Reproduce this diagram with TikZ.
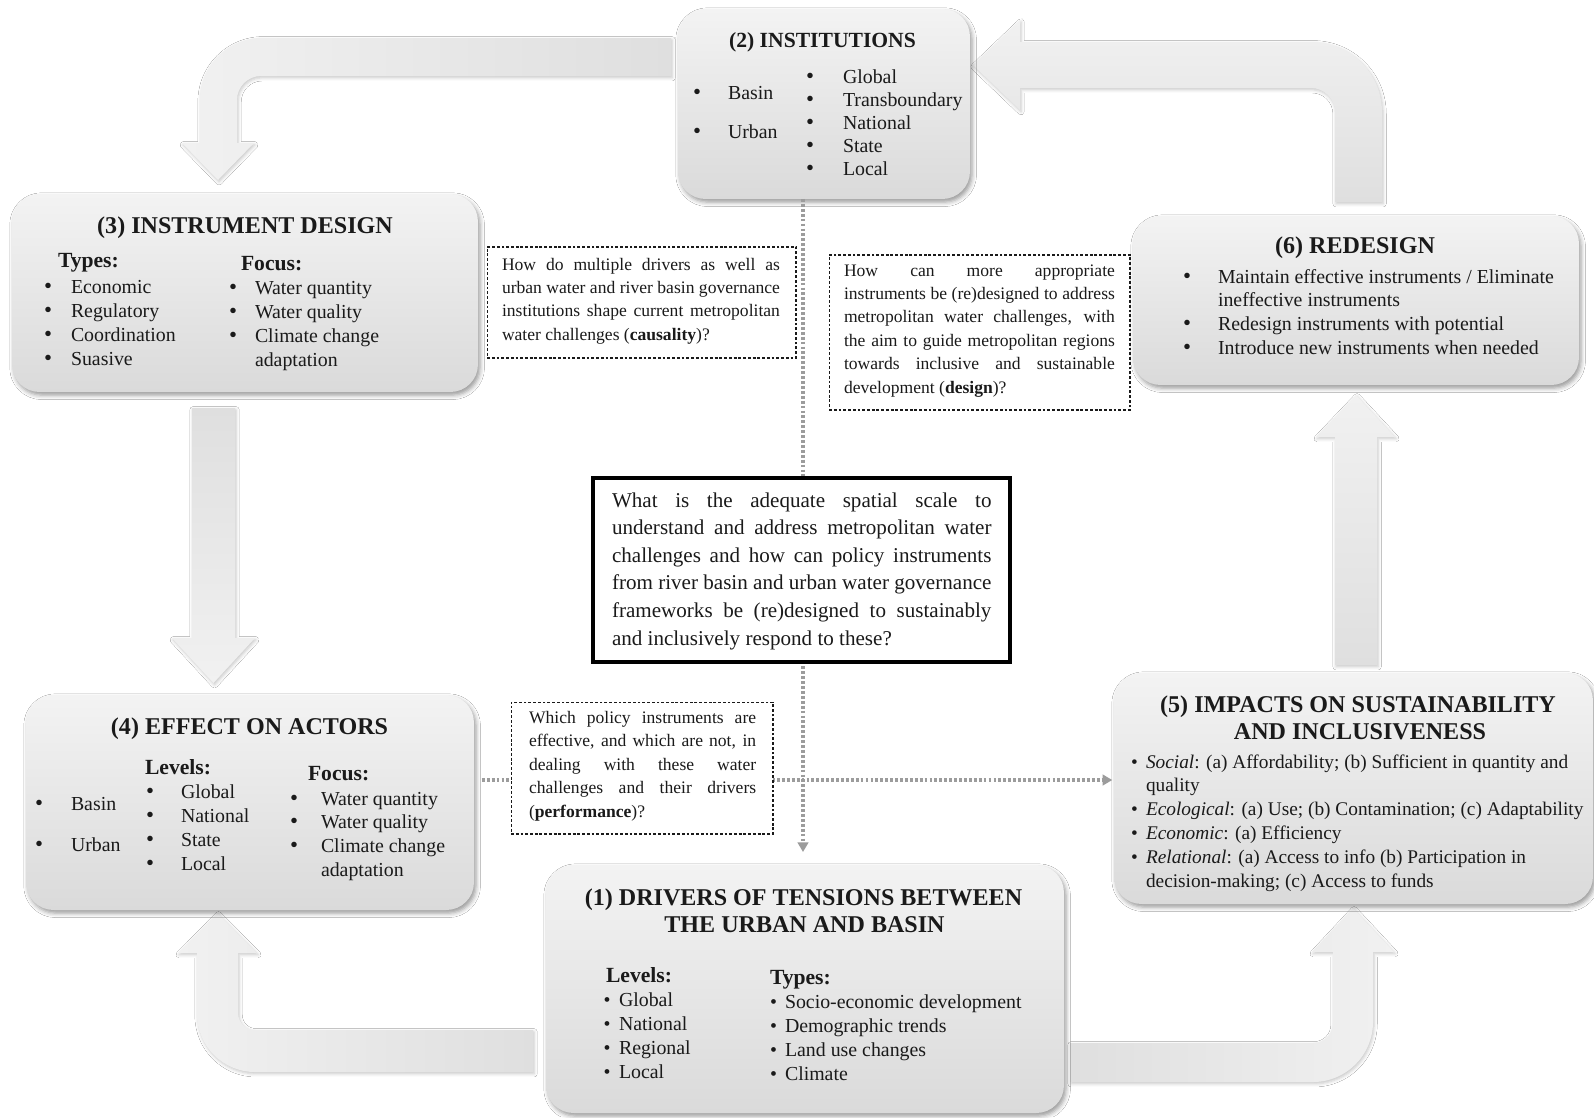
\documentclass[tikz,border=0pt]{standalone}
\usepackage{fontspec}
\setmainfont{Liberation Serif}
\usetikzlibrary{arrows.meta,shadows.blur}

\definecolor{panelhi}{HTML}{F3F3F3}
\definecolor{panello}{HTML}{DADADA}
\definecolor{bandhi}{HTML}{F1F1F1}
\definecolor{bandlo}{HTML}{DFDFDF}
\definecolor{dotgray}{HTML}{9C9C9C}
\definecolor{ink}{HTML}{1A1A1A}

% a column of lines: style, name, x, first baseline, step, list
\newcommand\stack[6]{\foreach \t [count=\k] in {#6}
  \node[#1,anchor=base west] (#2-\k) at (#3,{#4+#5*(\k-1)}) {\t};}
% bullets on selected lines: style, name, x, first baseline, step, line numbers
\newcommand\bulls[6]{\foreach \k in {#6}
  \node[#1,anchor=base] (#2-\k) at (#3,{#4+#5*(\k-1)}) {\textbullet};}
% justified lines: style, name, x, first baseline, step, width, list
\newcommand\just[7]{\foreach \t [count=\k] in {#7}
  \node[#1,anchor=base west] (#2-\k) at (#3,{#4+#5*(\k-1)}) {\makebox[#6][s]{\t}};}

\begin{document}
\begin{tikzpicture}[x=0.02cm, y=-0.02cm,
  panel/.style={rounded corners=0.55cm, top color=panelhi, bottom color=panello,
    inner sep=0, outer sep=0,
    blur shadow={shadow xshift=1.2pt, shadow yshift=-1.8pt, shadow blur radius=2.5pt, shadow opacity=40}},
  band/.style={blur shadow={shadow xshift=0.6pt, shadow yshift=-1pt, shadow blur radius=1.8pt, shadow opacity=22}},
  query/.style={draw=ink, line width=0.6pt, dash pattern=on 1.6pt off 1.1pt, fill=white, inner sep=0, outer sep=0},
  link/.style={draw=dotgray, line width=2pt, dash pattern=on 1.6pt off 1.2pt, -{Triangle[length=5.5pt,width=6pt]}},
  body/.style={font=\fontsize{11.3}{13}\selectfont, text=ink, inner sep=0, outer sep=0},
  bigbul/.style={font=\fontsize{13}{13}\selectfont, text=ink, inner sep=0, outer sep=0},
  imptext/.style={font=\fontsize{11}{13}\selectfont, text=ink, inner sep=0, outer sep=0},
  ttl/.style={font=\fontsize{13.7}{16}\selectfont\bfseries, text=ink, inner sep=0, outer sep=0},
  ttlsmall/.style={font=\fontsize{12.3}{15}\selectfont\bfseries, text=ink, inner sep=0, outer sep=0},
  sub/.style={font=\fontsize{12.3}{15}\selectfont\bfseries, text=ink, inner sep=0, outer sep=0},
  qtext/.style={font=\fontsize{10}{12}\selectfont, text=ink, inner sep=0, outer sep=0},
  ctext/.style={font=\fontsize{12}{14}\selectfont, text=ink, inner sep=0, outer sep=0}]

\useasboundingbox (0,0) rectangle (1594,1117);
\fill[white] (0,0) rectangle (1594,1117);

% ---- block arrows of the cycle ----
% institutions -> instrument design
\path[band, left color=bandhi, right color=bandlo]
  (671,38) -- (262,38) .. controls (227.8,38) and (200,65.8) .. (200,100)
  -- (200,143) -- (182,143) -- (218,180) -- (254,143) -- (237,143)
  -- (237,100) .. controls (237,86.8) and (247.8,76) .. (261,76)
  -- (671,76) -- cycle;
% redesign -> institutions
\path[band, top color=bandhi, bottom color=bandlo]
  (1335,202) -- (1382,202) -- (1382,112) .. controls (1382,73.4) and (1350.6,42) .. (1312,42)
  -- (1020,42) -- (1020,20) -- (973,65) -- (1020,110) -- (1020,88)
  -- (1311,88) .. controls (1324.2,88) and (1335,98.8) .. (1335,112) -- cycle;
% instrument design -> effect on actors
\path[band, top color=bandlo, bottom color=bandhi]
  (192,408) -- (235,408) -- (235,638) -- (255,638) -- (213.5,683) -- (172,638) -- (192,638) -- cycle;
% impacts -> redesign
\path[band, top color=bandhi, bottom color=bandlo]
  (1335,665) -- (1377,665) -- (1377,437) -- (1395,437) -- (1356,395) -- (1316,437) -- (1335,437) -- cycle;
% drivers -> effect on actors
\path[band, left color=bandhi, right color=bandlo]
  (533,1030) -- (255,1030) .. controls (245.6,1030) and (238,1022.4) .. (238,1013)
  -- (238,953) -- (257,953) -- (217.5,913) -- (178,953) -- (197,953)
  -- (197,1014) .. controls (197,1046) and (223,1072) .. (255,1072)
  -- (533,1072) -- cycle;
% drivers -> impacts
\path[band, left color=bandlo, right color=bandhi]
  (1070,1043) -- (1313,1043) .. controls (1324,1043) and (1333,1034) .. (1333,1023)
  -- (1333,952) -- (1312,952) -- (1353,908) -- (1394,952) -- (1373,952)
  -- (1373,1022) .. controls (1373,1055.1) and (1346.1,1082) .. (1313,1082)
  -- (1070,1082) -- cycle;

% ---- panels ----
\node[panel, minimum width=5.84cm, minimum height=3.8cm]  (inst)  at (824,104) {};
\node[panel, minimum width=9.32cm, minimum height=3.96cm] (instr) at (245,293) {};
\node[panel, minimum width=8.92cm, minimum height=3.38cm] (redes) at (1356,300.5) {};
\node[panel, minimum width=8.96cm, minimum height=4.3cm]  (act)   at (250,802.5) {};
\node[panel, minimum width=9.58cm, minimum height=4.62cm] (imp)   at (1353.5,788.5) {};
\node[panel, minimum width=10.36cm, minimum height=4.96cm] (drv)  at (805,989) {};

% ---- dotted links ----
\coordinate (vx) at (803,0);
\coordinate (hy) at (0,780);
\draw[link, shorten >=7.4pt] (inst.south -| vx) -- (drv.north -| vx);
\draw[link, shorten <=4.5pt, shorten >=1pt] (act.east |- hy) -- (imp.west |- hy);

% ---- research questions ----
\node[query, minimum width=6.18cm, minimum height=2.22cm] (qA) at (641.5,302.5) {};
\node[query, minimum width=6.02cm, minimum height=3.1cm]  (qB) at (979.5,332.5) {};
\node[query, minimum width=5.24cm, minimum height=2.64cm] (qC) at (642,768) {};
\node[draw=black, line width=2pt, fill=white, inner sep=0, minimum width=8.34cm, minimum height=3.68cm] (core) at (801.5,570) {};

\just{qtext}{qa}{502}{270}{23.3}{158.2pt}{How do multiple drivers as well as,urban water and river basin governance,institutions shape current metropolitan}
\node[qtext,anchor=base west] (qa-4) at (502,340) {water challenges (\textbf{causality})?};

\just{qtext}{qb}{844}{276}{23.4}{154.2pt}{How can more appropriate,instruments be (re)designed to address,{metropolitan water challenges, with},the aim to guide metropolitan regions,towards inclusive and sustainable}
\node[qtext,anchor=base west] (qb-6) at (844,393) {development (\textbf{design})?};

\just{qtext}{qc}{529}{723}{23.5}{129.3pt}{Which policy instruments are,{effective, and which are not, in},dealing with these water,challenges and their drivers}
\node[qtext,anchor=base west] (qc-5) at (529,817) {(\textbf{performance})?};

\just{ctext}{cq}{612}{507}{27.6}{216pt}{What is the adequate spatial scale to,understand and address metropolitan water,challenges and how can policy instruments,from river basin and urban water governance,frameworks be (re)designed to sustainably}
\node[ctext,anchor=base west] (cq-6) at (612,645) {and inclusively respond to these?};

% ---- (2) institutions ----
\node[ttlsmall,anchor=base] (inst-t) at (822.5,47) {(2) INSTITUTIONS};
\bulls{bigbul}{b2l}{697}{99}{39}{1,2}
\stack{body}{t2l}{728}{99}{39}{Basin,Urban}
\bulls{bigbul}{b2r}{810}{83}{23}{1,...,5}
\stack{body}{t2r}{843}{83}{23}{Global,Transboundary,National,State,Local}

% ---- (3) instrument design ----
\node[ttl,anchor=base] (instr-t) at (245,233) {(3) INSTRUMENT DESIGN};
\node[sub,anchor=base west] (instr-s1) at (58,267) {Types:};
\node[sub,anchor=base west] (instr-s2) at (241,270) {Focus:};
\bulls{bigbul}{b3a}{48}{293}{24.3}{1,...,4}
\stack{body}{t3a}{71}{293}{24.3}{Economic,Regulatory,Coordination,Suasive}
\bulls{bigbul}{b3b}{233}{294}{24}{1,2,3}
\stack{body}{t3b}{255}{294}{24}{Water quantity,Water quality,Climate change,adaptation}

% ---- (6) redesign ----
\node[ttl,anchor=base] (redes-t) at (1355,253) {(6) REDESIGN};
\bulls{bigbul}{b6}{1187}{283}{23.7}{1,3,4}
\stack{body}{t6}{1218}{283}{23.7}{Maintain effective instruments / Eliminate,ineffective instruments,Redesign instruments with potential,Introduce new instruments when needed}

% ---- (4) effect on actors ----
\node[ttl,anchor=base] (act-t) at (249.5,734) {(4) EFFECT ON ACTORS};
\node[sub,anchor=base west] (act-s1) at (145,774) {Levels:};
\node[sub,anchor=base west] (act-s2) at (308,780) {Focus:};
\bulls{bigbul}{b4a}{39}{810}{41}{1,2}
\stack{body}{t4a}{71}{810}{41}{Basin,Urban}
\bulls{bigbul}{b4b}{150}{798}{24.3}{1,...,4}
\stack{body}{t4b}{181}{798}{24.3}{Global,National,State,Local}
\bulls{bigbul}{b4c}{294}{805}{23.7}{1,2,3}
\stack{body}{t4c}{321}{805}{23.7}{Water quantity,Water quality,Climate change,adaptation}

% ---- (5) impacts ----
\node[ttl,anchor=base] (imp-t1) at (1358,712) {(5) IMPACTS ON SUSTAINABILITY};
\node[ttl,anchor=base] (imp-t2) at (1360,739) {AND INCLUSIVENESS};
\bulls{imptext}{b5}{1134.5}{768}{23.8}{1,3,4,5}
\stack{imptext}{t5}{1146}{768}{23.8}{\textit{Social}: (a) Affordability; (b) Sufficient in quantity and,quality,\textit{Ecological}: (a) Use; (b) Contamination; (c) Adaptability,\textit{Economic}: (a) Efficiency,\textit{Relational}: (a) Access to info (b) Participation in,decision-making; (c) Access to funds}

% ---- (1) drivers ----
\node[ttl,anchor=base] (drv-t1) at (803.5,905) {(1) DRIVERS OF TENSIONS BETWEEN};
\node[ttl,anchor=base] (drv-t2) at (804.5,932) {THE URBAN AND BASIN};
\node[sub,anchor=base west] (drv-s1) at (606,982) {Levels:};
\node[sub,anchor=base west] (drv-s2) at (770,984) {Types:};
\bulls{body}{b1a}{607}{1006}{24.3}{1,...,4}
\stack{body}{t1a}{619}{1006}{24.3}{Global,National,Regional,Local}
\bulls{body}{b1b}{773.6}{1008}{24.3}{1,...,4}
\stack{body}{t1b}{785}{1008}{24.3}{Socio-economic development,Demographic trends,Land use changes,Climate}

\end{tikzpicture}
\end{document}
